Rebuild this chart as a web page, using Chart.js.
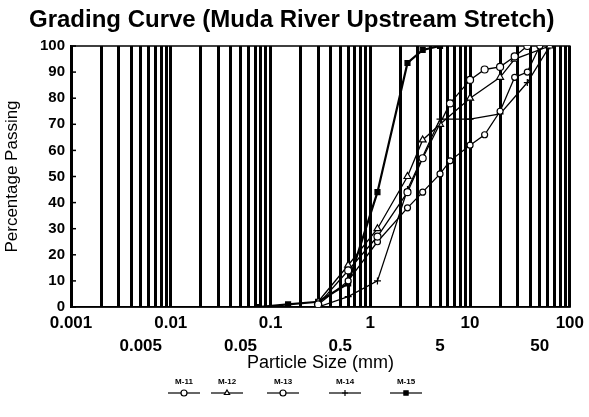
<!DOCTYPE html>
<html>
<head>
<meta charset="utf-8">
<script src="https://cdn.jsdelivr.net/npm/chart.js@4.4.1/dist/chart.umd.min.js"></script>
<style>
  html, body { margin: 0; padding: 0; background: #fff; }
  #wrap { position: relative; width: 589px; height: 417px; }
  #title { position: absolute; left: 29px; top: 7px; font: bold 24px/24px "Liberation Sans", Arial, sans-serif; color: #000; white-space: nowrap; }
  canvas { position: absolute; left: 0; top: 0; }
</style>
</head>
<body>
<div id="wrap">
  <canvas id="c" width="589" height="417"></canvas>
  <div id="title">Grading Curve (Muda River Upstream Stretch)</div>
</div>
<script>
// ---- data ----
const seriesNames = ['M-11', 'M-12', 'M-13', 'M-14', 'M-15'];

const m11Size = [0.3, 0.6, 1.18, 2.36, 3.35, 6.3, 10, 14, 20, 28, 37.5];
const m11Pass = [1, 14, 27, 44, 57, 78, 87, 91, 92, 96, 100];

const m12Size = [0.3, 0.6, 1.18, 2.36, 3.35, 5, 10, 20, 28, 63];
const m12Pass = [2, 16, 30, 50, 64, 70, 80, 88, 95, 100];

const m13Size = [0.3, 0.6, 1.18, 2.36, 3.35, 5, 6.3, 10, 14, 20, 28, 37.5, 50];
const m13Pass = [1, 10, 25, 38, 44, 51, 56, 62, 66, 75, 88, 90, 100];

const m14Size = [0.3, 0.6, 1.18, 2.36, 5, 10, 20, 37.5, 63];
const m14Pass = [0, 4, 10, 45, 72, 72, 74, 86, 100];

const m15Size = [0.075, 0.15, 0.3, 0.6, 1.18, 2.36, 3.35, 5];
const m15Pass = [0, 1, 2, 9, 44, 93.5, 98.5, 100];

const gridValues = [
  0.001, 0.002, 0.003, 0.004, 0.005, 0.006, 0.007, 0.008, 0.009,
  0.01, 0.02, 0.03, 0.04, 0.05, 0.06, 0.07, 0.08, 0.09,
  0.1, 0.2, 0.3, 0.4, 0.5, 0.6, 0.7, 0.8, 0.9,
  1, 2, 3, 4, 5, 6, 7, 8, 9,
  10, 20, 30, 40, 50, 60, 70, 80, 90,
  100
];
const topRowLabels = ['0.001', '0.01', '0.1', '1', '10', '100'];
const bottomRowLabels = ['0.005', '0.05', '0.5', '5', '50'];
const yTickValues = [0, 10, 20, 30, 40, 50, 60, 70, 80, 90, 100];

// ---- chart ----
function pts(sizes, pass) { return sizes.map((s, i) => ({ x: s, y: pass[i] })); }
function near(a, b) { return Math.abs(a - b) / b < 1e-6; }

const styles = [
  { pointStyle: 'circle', radius: 3.5, fill: '#fff', width: 1.3 },
  { pointStyle: 'triangle', radius: 4, fill: '#fff', width: 1.3 },
  { pointStyle: 'circle', radius: 3, fill: '#fff', width: 1.3 },
  { pointStyle: 'cross', radius: 3.5, fill: '#000', width: 1.3 },
  { pointStyle: 'rect', radius: 3.5, fill: '#000', width: 2.2 }
];
const seriesData = [
  pts(m11Size, m11Pass), pts(m12Size, m12Pass), pts(m13Size, m13Pass),
  pts(m14Size, m14Pass), pts(m15Size, m15Pass)
];

const datasets = seriesNames.map((n, i) => ({
  label: n,
  data: seriesData[i],
  showLine: true,
  borderColor: '#000',
  borderWidth: styles[i].width,
  backgroundColor: styles[i].fill,
  pointStyle: styles[i].pointStyle,
  pointRadius: styles[i].radius,
  pointBorderColor: '#000',
  pointBorderWidth: 1.2,
  pointBackgroundColor: styles[i].fill,
  tension: 0
}));

const FONT = '"Liberation Sans", Arial, sans-serif';

const framePlugin = {
  id: 'frame',
  beforeDatasetsDraw(chart) {
    const { ctx, chartArea: a, scales } = chart;
    ctx.save();
    ctx.strokeStyle = '#000';
    ctx.lineWidth = 1.5;
    ctx.strokeRect(a.left, a.top, a.right - a.left, a.bottom - a.top);
    yTickValues.forEach(v => {
      const y = scales.y.getPixelForValue(v);
      ctx.beginPath();
      ctx.moveTo(a.left, y);
      ctx.lineTo(a.left + 5, y);
      ctx.stroke();
    });
    ctx.restore();
  },
  afterDraw(chart) {
    const { ctx } = chart;
    const centers = [184, 227, 283, 345, 406];
    ctx.save();
    ctx.font = 'bold 8px ' + FONT;
    ctx.textAlign = 'center';
    ctx.textBaseline = 'middle';
    chart.data.datasets.forEach((ds, i) => {
      const cx = centers[i];
      ctx.fillStyle = '#000';
      ctx.fillText(ds.label, cx, 382);
      ctx.strokeStyle = '#000';
      ctx.lineWidth = 1.2;
      ctx.beginPath();
      ctx.moveTo(cx - 16, 393);
      ctx.lineTo(cx + 16, 393);
      ctx.stroke();
      ctx.fillStyle = ds.pointBackgroundColor;
      Chart.helpers.drawPoint(ctx, {
        pointStyle: ds.pointStyle,
        radius: 3,
        borderWidth: 1.2,
        rotation: 0
      }, cx, 393);
    });
    ctx.restore();
  }
};

new Chart(document.getElementById('c'), {
  type: 'scatter',
  data: { datasets },
  options: {
    responsive: false,
    animation: false,
    devicePixelRatio: 1,
    layout: { padding: { top: 46, left: 0, right: 19, bottom: 40 } },
    plugins: { legend: { display: false }, tooltip: { enabled: false } },
    scales: {
      x: {
        type: 'logarithmic',
        min: 0.001,
        max: 100,
        afterBuildTicks(scale) { scale.ticks = gridValues.map(v => ({ value: v })); },
        afterFit(scale) { scale.height = 70; },
        grid: { color: '#000', lineWidth: 3, drawTicks: false },
        border: { display: true, color: '#000', width: 1.5 },
        ticks: {
          autoSkip: false,
          maxRotation: 0,
          padding: 5,
          color: '#000',
          font: { family: FONT, size: 17, weight: 'bold', lineHeight: 1.35 },
          callback(value) {
            const t = topRowLabels.find(l => near(Number(l), value));
            if (t) return [t, ''];
            const b = bottomRowLabels.find(l => near(Number(l), value));
            if (b) return ['', b];
            return '';
          }
        },
        title: {
          display: true,
          text: 'Particle Size (mm)',
          color: '#000',
          font: { family: FONT, size: 18 },
          padding: { top: 0, bottom: 3 }
        }
      },
      y: {
        min: 0,
        max: 100,
        afterBuildTicks(scale) { scale.ticks = yTickValues.map(v => ({ value: v })); },
        afterFit(scale) { scale.width = 71; },
        grid: { display: false, drawTicks: false },
        border: { display: true, color: '#000', width: 1.5 },
        ticks: {
          color: '#000',
          padding: 6,
          font: { family: FONT, size: 15, weight: 'bold' }
        },
        title: {
          display: true,
          text: 'Percentage Passing',
          color: '#000',
          font: { family: FONT, size: 17 },
          padding: { top: 2, bottom: 0 }
        }
      }
    }
  },
  plugins: [framePlugin]
});
</script>
</body>
</html>
